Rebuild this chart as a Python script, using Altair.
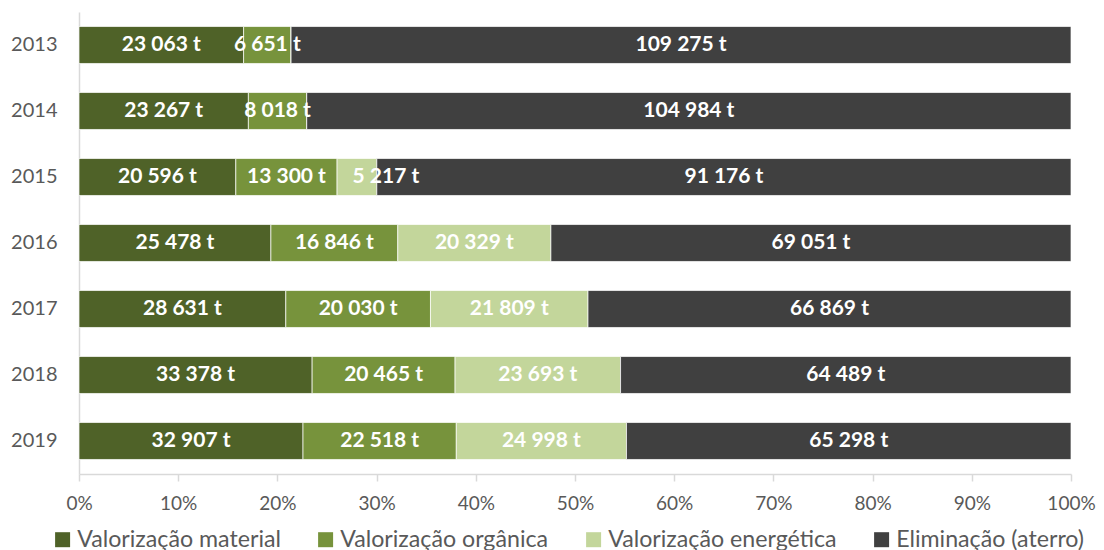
import altair as alt
import pandas as pd

years = ["2013", "2014", "2015", "2016", "2017", "2018", "2019"]
categories = ["Valorização material", "Valorização orgânica",
              "Valorização energética", "Eliminação (aterro)"]
colors = ["#4F6228", "#77933C", "#C3D69B", "#404040"]

material = [23063, 23267, 20596, 25478, 28631, 33378, 32907]
organica = [6651, 8018, 13300, 16846, 20030, 20465, 22518]
energetica = [0, 0, 5217, 20329, 21809, 23693, 24998]
eliminacao = [109275, 104984, 91176, 69051, 66869, 64489, 65298]

series = [material, organica, energetica, eliminacao]

rows = []
for ci, (cat, vals) in enumerate(zip(categories, series)):
    for y, v in zip(years, vals):
        rows.append({"year": y, "cat": cat, "order": ci, "value": v,
                     "label": f"{v:,}".replace(",", " ") + " t"})
df = pd.DataFrame(rows)

FONT = "Lato"
GREY = "#595959"
LINE = "#D9D9D9"

base = alt.Chart(df).transform_stack(
    stack="value", groupby=["year"], sort=[alt.SortField("order")],
    as_=["x0", "x1"], offset="normalize"
).transform_calculate(mid="(datum.x0 + datum.x1) / 2")

y_enc = alt.Y("year:N", sort=years,
              scale=alt.Scale(paddingInner=0.44, paddingOuter=0.22),
              axis=alt.Axis(title=None, ticks=False, labelPadding=22,
                            domainColor=LINE, domainWidth=1.5, labelColor=GREY,
                            labelFontSize=20, labelFont=FONT))

bars = base.mark_bar(stroke="white", strokeWidth=0.7).encode(
    x=alt.X("x0:Q", scale=alt.Scale(domain=[0, 1]),
            axis=alt.Axis(title=None, format="%", values=[i / 10 for i in range(11)],
                          grid=False, tickSize=7, tickColor=LINE, tickWidth=1.5,
                          domainColor=LINE, domainWidth=1.5, labelPadding=13,
                          labelFlush=False, labelOverlap=False,
                          labelColor=GREY, labelFontSize=19, labelFont=FONT)),
    x2="x1:Q",
    y=y_enc,
    color=alt.Color("cat:N", scale=alt.Scale(domain=categories, range=colors),
                    legend=alt.Legend(orient="none", legendX=-28, legendY=516,
                                      direction="horizontal", columns=4, title=None,
                                      symbolType="square", symbolSize=225,
                                      symbolStrokeWidth=0, symbolOpacity=1,
                                      labelFontSize=23.2, labelFont=FONT,
                                      labelLimit=0,
                                      labelColor=GREY, columnPadding=33,
                                      labelOffset=3, padding=0)),
    order=alt.Order("order:Q"),
)

small = "datum.year == '2015' && datum.order == 2"

labels = base.mark_text(font=FONT, fontWeight="bold", fontSize=21,
                        color="white").encode(
    x="mid:Q",
    y=alt.Y("year:N", sort=years),
    text="label:N",
).transform_filter(f"datum.value > 0 && !({small})")

labels_shifted = base.mark_text(font=FONT, fontWeight="bold", fontSize=21,
                                color="white", dx=29).encode(
    x="mid:Q",
    y=alt.Y("year:N", sort=years),
    text="label:N",
).transform_filter(small)

chart = alt.layer(bars, labels, labels_shifted).properties(
    width=992, height=462,
    autosize=alt.AutoSizeParams(type="none"),
    padding={"left": 71, "top": 4, "right": 25, "bottom": 80},
).configure_view(stroke=None)

chart.save("out.html", embed_options={"renderer": "svg", "actions": False})
